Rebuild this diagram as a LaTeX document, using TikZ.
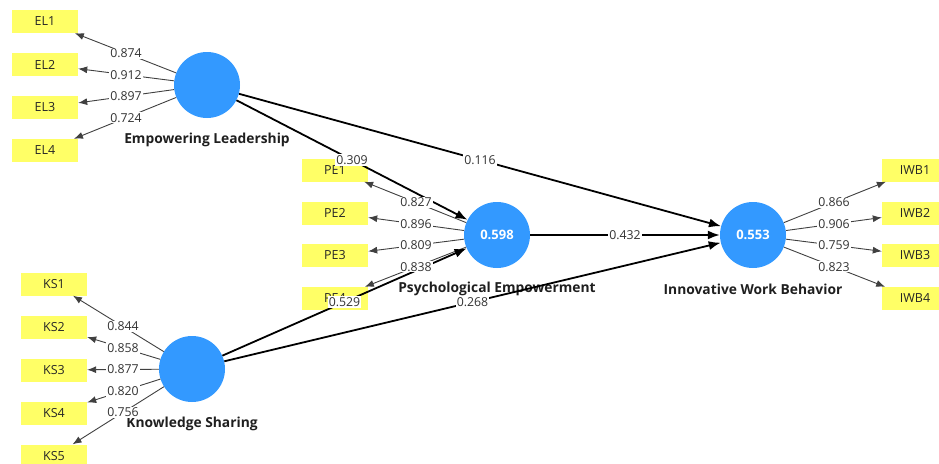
\documentclass[tikz,border=0pt]{standalone}
\usepackage{fontspec}
\setmainfont{Open Sans}
\usetikzlibrary{arrows.meta}
\definecolor{lvblue}{RGB}{51,153,255}
\definecolor{indyellow}{RGB}{255,255,102}
\begin{document}
\begin{tikzpicture}[x=1pt,y=-1pt,
 lv/.style={circle, fill=lvblue, minimum size=66pt, inner sep=0pt, text=white, font=\fontsize{13}{15}\selectfont\bfseries},
 ind/.style={rectangle, fill=indyellow, minimum width=66pt, minimum height=23pt, inner sep=0pt, font=\fontsize{12.5}{14}\selectfont, text=black!85},
 lvname/.style={font=\fontsize{13.8}{16}\selectfont\bfseries, text=black!88},
 loadarrow/.style={-{Latex[length=9pt,width=7pt]}, line width=0.9pt, draw=black!75},
 patharrow/.style={-{Latex[length=12pt,width=9pt]}, line width=1.8pt, draw=black},
 lbl/.style={fill=white, inner sep=1pt, font=\fontsize{12.3}{14}\selectfont, text=black!80}
]
\useasboundingbox (0,0) rectangle (939,463);
% indicator boxes
\node[ind] (el1) at (45,21.5) {EL1};
\node[ind] (el2) at (45,64.5) {EL2};
\node[ind] (el3) at (45,107.5) {EL3};
\node[ind] (el4) at (45,150.5) {EL4};
\node[ind] (pe1) at (335,170) {PE1};
\node[ind] (pe2) at (335,213) {PE2};
\node[ind] (pe3) at (335,255.5) {PE3};
\node[ind] (pe4) at (335,298.5) {PE4};
\node[ind] (iwb1) at (915,170) {IWB1};
\node[ind] (iwb2) at (915,213) {IWB2};
\node[ind] (iwb3) at (915,255.5) {IWB3};
\node[ind] (iwb4) at (915,298.5) {IWB4};
\node[ind] (ks1) at (54,284) {KS1};
\node[ind] (ks2) at (54,327) {KS2};
\node[ind] (ks3) at (54,370) {KS3};
\node[ind] (ks4) at (54,413) {KS4};
\node[ind] (ks5) at (54,456) {KS5};
% latent variables
\node[lv] (el) at (207,85) {};
\node[lv] (pe) at (497,235) {0.598};
\node[lv] (iwb) at (753,235) {0.553};
\node[lv] (ks) at (192,369) {};
\node[lvname] (elname) at (207,140) {Empowering Leadership};
\node[lvname] (pename) at (497,289) {Psychological Empowerment};
\node[lvname] (iwbname) at (753,289) {Innovative Work Behavior};
\node[lvname] (ksname) at (192,424) {Knowledge Sharing};
% loadings
\foreach \i in {1,2,3,4} {\draw[loadarrow] (el) -- (el\i);}
\foreach \i in {1,2,3,4} {\draw[loadarrow] (pe) -- (pe\i);}
\foreach \i in {1,2,3,4} {\draw[loadarrow] (iwb) -- (iwb\i);}
\foreach \i in {1,2,3,4,5} {\draw[loadarrow] (ks) -- (ks\i);}
% structural paths
\draw[patharrow] (el) -- (pe);
\draw[patharrow] (el) -- (iwb);
\draw[patharrow] (pe) -- (iwb);
\draw[patharrow] (ks) -- (pe);
\draw[patharrow] (ks) -- (iwb);
% labels
\path (el.center) -- (el1.center) node[midway,lbl] {0.874};
\path (el.center) -- (el2.center) node[midway,lbl] {0.912};
\path (el.center) -- (el3.center) node[midway,lbl] {0.897};
\path (el.center) -- (el4.center) node[midway,lbl] {0.724};
\path (pe.center) -- (pe1.center) node[midway,lbl] {0.827};
\path (pe.center) -- (pe2.center) node[midway,lbl] {0.896};
\path (pe.center) -- (pe3.center) node[midway,lbl] {0.809};
\path (pe.center) -- (pe4.center) node[midway,lbl] {0.838};
\path (iwb.center) -- (iwb1.center) node[midway,lbl] {0.866};
\path (iwb.center) -- (iwb2.center) node[midway,lbl] {0.906};
\path (iwb.center) -- (iwb3.center) node[midway,lbl] {0.759};
\path (iwb.center) -- (iwb4.center) node[midway,lbl] {0.823};
\path (ks.center) -- (ks1.center) node[midway,lbl] {0.844};
\path (ks.center) -- (ks2.center) node[midway,lbl] {0.858};
\path (ks.center) -- (ks3.center) node[midway,lbl] {0.877};
\path (ks.center) -- (ks4.center) node[midway,lbl] {0.820};
\path (ks.center) -- (ks5.center) node[midway,lbl] {0.756};
\path (el.center) -- (pe.center) node[midway,lbl] {0.309};
\path (el.center) -- (iwb.center) node[midway,lbl] {0.116};
\path (pe.center) -- (iwb.center) node[midway,lbl] {0.432};
\path (ks.center) -- (pe.center) node[midway,lbl] {0.529};
\path (ks.center) -- (iwb.center) node[midway,lbl] {0.268};
\end{tikzpicture}
\end{document}
